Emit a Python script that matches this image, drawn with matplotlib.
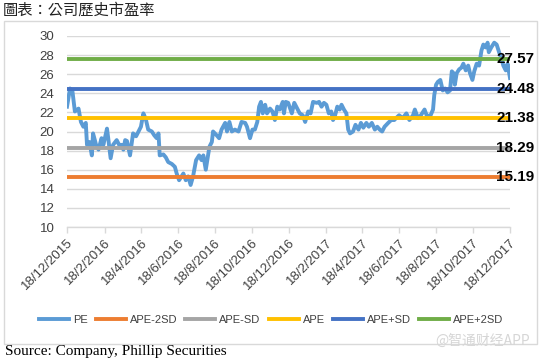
import matplotlib
matplotlib.use('Agg')
import matplotlib.pyplot as plt
from matplotlib.patches import Rectangle
from matplotlib.lines import Line2D
import pandas as pd

start_date = '2015-12-18'
day_offsets = [
    0, 5, 9, 13, 19, 23, 27, 31, 33, 37,
    41, 43, 48, 52, 57, 60, 66, 68, 72, 76,
    82, 86, 90, 93, 96, 99, 104, 109, 114, 118,
    122, 126, 130, 134, 140, 144, 148, 151, 153, 159,
    163, 167, 173, 178, 181, 185, 192, 196, 200, 204,
    208, 213, 218, 222, 225, 229, 235, 239, 241, 247,
    251, 255, 261, 264, 268, 272, 277, 283, 288, 294,
    297, 302, 306, 310, 314, 317, 320, 323, 327, 330,
    335, 339, 343, 347, 351, 356, 358, 361, 365, 371,
    375, 380, 384, 389, 393, 398, 402, 406, 412, 416,
    420, 424, 428, 432, 436, 439, 442, 446, 450, 453,
    457, 461, 464, 467, 472, 476, 481, 485, 489, 494,
    498, 503, 508, 512, 516, 520, 524, 530, 535, 540,
    543, 548, 554, 560, 565, 571, 574, 579, 584, 590,
    594, 600, 604, 606, 609, 612, 616, 620, 624, 628,
    632, 635, 638, 640, 643, 647, 651, 654, 658, 662,
    665, 669, 672, 676, 680, 684, 687, 691, 694, 696,
    700, 705, 709, 713, 717, 720, 724, 727, 731,
]
pe_values = [
    22.6, 24.5, 24.2, 22.1, 22.4, 21.0, 20.5, 20.9, 18.6, 18.9,
    17.5, 19.8, 18.6, 18.1, 19.3, 18.6, 20.3, 19.3, 17.2, 18.6,
    19.1, 18.6, 18.6, 18.1, 19.1, 19.0, 17.5, 19.8, 19.5, 20.0,
    20.5, 21.9, 21.3, 20.2, 20.0, 19.6, 19.3, 19.8, 17.5, 17.6,
    17.3, 16.8, 16.6, 16.3, 15.6, 14.9, 15.6, 14.9, 15.3, 14.4,
    15.3, 17.0, 17.5, 17.0, 17.5, 16.0, 18.4, 18.9, 20.0, 19.6,
    19.3, 20.2, 20.9, 20.0, 21.0, 20.0, 20.2, 20.0, 21.0, 20.9,
    20.5, 19.3, 20.2, 20.2, 21.0, 22.6, 23.1, 21.9, 22.8, 21.9,
    22.4, 22.1, 21.2, 22.6, 22.3, 23.1, 21.9, 23.1, 23.0, 21.9,
    23.0, 22.4, 21.9, 21.7, 21.0, 22.1, 21.9, 23.1, 23.0, 23.1,
    22.6, 23.0, 22.8, 21.9, 22.1, 21.2, 21.6, 22.6, 22.3, 22.8,
    22.3, 21.9, 20.2, 19.8, 20.0, 20.7, 20.2, 20.9, 20.4, 20.9,
    20.5, 20.9, 20.2, 20.5, 20.2, 20.0, 20.5, 20.9, 21.2, 21.2,
    21.4, 21.7, 21.4, 21.9, 21.2, 21.7, 22.3, 21.4, 21.7, 22.3,
    21.6, 21.7, 22.3, 23.8, 24.9, 25.2, 25.4, 24.3, 24.5, 24.1,
    24.3, 26.3, 26.1, 24.9, 26.1, 26.5, 26.7, 27.1, 26.4, 26.9,
    26.1, 25.4, 26.3, 27.1, 26.9, 28.5, 29.1, 28.8, 29.3, 28.3,
    28.8, 29.3, 29.1, 28.3, 27.6, 26.9, 26.4, 27.1, 25.6,
]
band_names = ['APE-2SD', 'APE-SD', 'APE', 'APE+SD', 'APE+2SD']
band_values = [15.19, 18.29, 21.38, 24.48, 27.57]
band_colors = ['#ED7D31', '#A5A5A5', '#FFC000', '#4472C4', '#70AD47']
pe_color = '#5B9BD5'
tick_dates = ['2015-12-18', '2016-02-18', '2016-04-18', '2016-06-18', '2016-08-18',
              '2016-10-18', '2016-12-18', '2017-02-18', '2017-04-18', '2017-06-18',
              '2017-08-18', '2017-10-18', '2017-12-18']
tick_labels = ['18/12/2015', '18/2/2016', '18/4/2016', '18/6/2016', '18/8/2016',
               '18/10/2016', '18/12/2016', '18/2/2017', '18/4/2017', '18/6/2017',
               '18/8/2017', '18/10/2017', '18/12/2017']
y_ticks = [10, 12, 14, 16, 18, 20, 22, 24, 26, 28, 30]

dates = pd.to_datetime(start_date) + pd.to_timedelta(day_offsets, unit='D')
sans = ['Liberation Sans', 'DejaVu Sans']
plt.rcParams['font.family'] = sans

W, H = 542, 359
fig = plt.figure(figsize=(W / 100, H / 100), dpi=100)
fig.patches.append(Rectangle((4 / W, 1 - 344 / H), 533 / W, 323 / H, transform=fig.transFigure,
                             fill=False, edgecolor='#d9d9d9', lw=1.0))
ax = fig.add_axes([67 / W, 1 - 227 / H, 443 / W, 191 / H])

lw = 2.8
ax.plot(dates, pe_values, color=pe_color, lw=lw, solid_joinstyle='round', zorder=3)
x_ends = [dates[0], dates[-1]]
for name, val, col in zip(band_names, band_values, band_colors):
    ax.plot(x_ends, [val, val], color=col, lw=lw, solid_capstyle='butt', zorder=4)
    ax.annotate(f'{val:.2f}', xy=(dates[-1], val), xytext=(-14, 0), textcoords='offset pixels',
                ha='left', va='center', fontsize=11, fontweight='bold', color='black',
                zorder=6, annotation_clip=False)

ax.set_ylim(10, 30)
ax.set_xlim(dates[0], dates[-1])
ax.set_yticks(y_ticks)
ax.set_xticks(pd.to_datetime(tick_dates))
ax.set_xticklabels(tick_labels, rotation=45, ha='right', va='top', rotation_mode='anchor',
                   fontsize=9.5, color='#404040')
ax.tick_params(axis='y', length=0, pad=9, labelsize=9.5, labelcolor='#404040')
ax.tick_params(axis='x', length=4, color='#d9d9d9', width=1, pad=3)
ax.yaxis.grid(True, color='#d9d9d9', lw=1.0)
ax.set_axisbelow(True)
for s in ['top', 'right', 'left']:
    ax.spines[s].set_visible(False)
ax.spines['bottom'].set_color('#d9d9d9')
ax.spines['bottom'].set_linewidth(1.0)

handles = [Line2D([], [], color=pe_color, lw=lw)] + \
          [Line2D([], [], color=c, lw=lw) for c in band_colors]
labels = ['PE'] + band_names
fig.legend(handles, labels, loc='center', bbox_to_anchor=(271 / W, 1 - 320 / H), ncol=6,
           frameon=False, fontsize=8, handlelength=2.7, handletextpad=0.36,
           columnspacing=0.72, labelcolor='#404040', borderpad=0.2)

fig.text(3 / W, 1 - 10 / H, '圖表：公司歷史市盈率', ha='left', va='center', fontsize=11,
         family=['Noto Sans CJK TC', 'DejaVu Sans'], color='#222222')
fig.text(5 / W, 1 - 352 / H, 'Source: Company, Phillip Securities', ha='left', va='center',
         fontsize=11, family=['Liberation Serif', 'DejaVu Serif'], color='black')
fig.text(530 / W, 1 - 341 / H, '@智通财经APP', ha='right', va='center', fontsize=10,
         family=['Noto Sans CJK SC', 'DejaVu Sans'], color='#d6d6d6')

fig.savefig('out.png', dpi=100)
